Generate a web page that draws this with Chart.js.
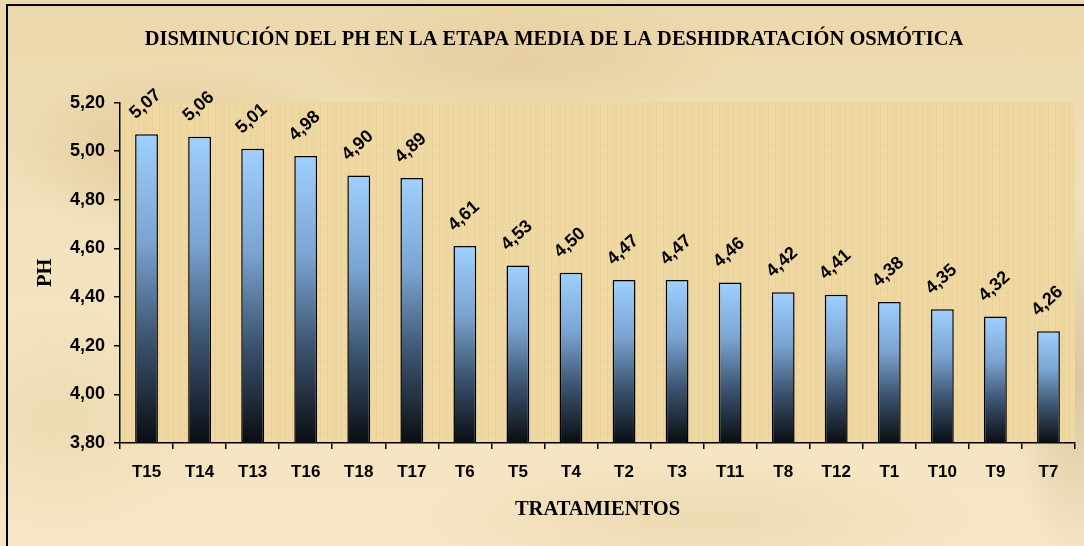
<!DOCTYPE html>
<html lang="es">
<head>
<meta charset="utf-8">
<title>Disminución del pH en la etapa media de la deshidratación osmótica</title>
<script src="https://cdn.jsdelivr.net/npm/chart.js@4.4.1/dist/chart.umd.min.js"></script>
<style>
  html, body { margin: 0; padding: 0; }
  body {
    width: 1084px; height: 546px; overflow: hidden;
    background:
      radial-gradient(ellipse 260px 120px at 180px 150px, rgba(205,175,120,0.45), rgba(205,175,120,0) 70%),
      radial-gradient(ellipse 300px 90px at 520px 60px, rgba(215,185,130,0.35), rgba(215,185,130,0) 70%),
      radial-gradient(ellipse 200px 160px at 60px 420px, rgba(225,200,150,0.35), rgba(225,200,150,0) 70%),
      radial-gradient(ellipse 90px 260px at 1075px 380px, rgba(170,145,105,0.35), rgba(170,145,105,0) 70%),
      radial-gradient(ellipse 400px 90px at 700px 520px, rgba(220,195,145,0.35), rgba(220,195,145,0) 70%),
      linear-gradient(180deg, #ecd7ab 0%, #f3e2bd 45%, #f6e6c4 100%);
  }
  #wrap { position: relative; width: 1084px; height: 546px; }
  #marco {
    position: absolute; left: 6px; top: 4px; right: -4px; bottom: -4px;
    border-left: 2px solid #000; border-top: 2px solid #000;
    pointer-events: none;
  }
</style>
</head>
<body>
<div id="wrap">
  <canvas id="graficoPH"></canvas>
  <div id="marco"></div>
</div>
<script>
const categorias = ['T15', 'T14', 'T13', 'T16', 'T18', 'T17', 'T6', 'T5', 'T4',
                    'T2', 'T3', 'T11', 'T8', 'T12', 'T1', 'T10', 'T9', 'T7'];
const valoresPH = [5.07, 5.06, 5.01, 4.98, 4.90, 4.89, 4.61, 4.53, 4.50,
                   4.47, 4.47, 4.46, 4.42, 4.41, 4.38, 4.35, 4.32, 4.26];
const limitesY = [3.8, 5.2];
const pasoY = 0.2;

const titulo = 'DISMINUCIÓN DEL PH EN LA ETAPA MEDIA DE LA DESHIDRATACIÓN OSMÓTICA';
const sans = 'Arial, "Liberation Sans", sans-serif';
const serif = '"Times New Roman", "Liberation Serif", serif';

// 5.07 -> "5,07"
const formato = v => Number(v).toFixed(2).replace('.', ',');

// degradado de cada barra: celeste arriba, casi negro abajo
function degradado(context) {
  const chart = context.chart;
  const area = chart.chartArea;
  if (!area) return '#99ccff';
  const top = chart.scales.y.getPixelForValue(context.raw);
  const g = chart.ctx.createLinearGradient(0, top, 0, area.bottom);
  g.addColorStop(0, '#9fd0ff');
  g.addColorStop(0.35, '#7aa4d1');
  g.addColorStop(0.65, '#3e5774');
  g.addColorStop(1, '#0a0d12');
  return g;
}

// fondo tipo papiro del area de trazado
const fondoArea = {
  id: 'fondoArea',
  beforeDraw(chart) {
    const { ctx, chartArea: a } = chart;
    ctx.save();
    ctx.fillStyle = '#efd7a2';
    ctx.fillRect(a.left, a.top, a.right - a.left, a.bottom - a.top);
    ctx.lineWidth = 1;
    ctx.strokeStyle = 'rgba(160,125,70,0.07)';
    for (let x = a.left + 4; x < a.right; x += 7) {
      ctx.beginPath(); ctx.moveTo(x + 0.5, a.top); ctx.lineTo(x + 0.5, a.bottom); ctx.stroke();
    }
    ctx.strokeStyle = 'rgba(255,245,215,0.18)';
    for (let y = a.top + 3; y < a.bottom; y += 9) {
      ctx.beginPath(); ctx.moveTo(a.left, y + 0.5); ctx.lineTo(a.right, y + 0.5); ctx.stroke();
    }
    ctx.restore();
  }
};

// valores encima de cada barra, girados
const etiquetas = {
  id: 'etiquetas',
  afterDatasetsDraw(chart) {
    const { ctx } = chart;
    const meta = chart.getDatasetMeta(0);
    ctx.save();
    ctx.font = 'bold 18px ' + sans;
    ctx.fillStyle = '#000';
    ctx.textAlign = 'center';
    ctx.textBaseline = 'middle';
    meta.data.forEach((bar, i) => {
      ctx.save();
      ctx.translate(bar.x - 1, bar.y - 30);
      ctx.rotate(-42 * Math.PI / 180);
      ctx.fillText(formato(valoresPH[i]), 0, 0);
      ctx.restore();
    });
    ctx.restore();
  }
};

new Chart(document.getElementById('graficoPH'), {
  type: 'bar',
  data: {
    labels: categorias,
    datasets: [{
      label: 'PH',
      data: valoresPH,
      backgroundColor: degradado,
      borderColor: '#000',
      borderWidth: 1.5,
      barPercentage: 0.43,
      categoryPercentage: 1
    }]
  },
  options: {
    responsive: true,
    maintainAspectRatio: false,
    animation: false,
    layout: { padding: { left: 33, right: 9, top: 0, bottom: 0 } },
    plugins: {
      legend: { display: false },
      tooltip: { enabled: false },
      title: {
        display: true,
        text: titulo,
        color: '#000',
        font: { family: serif, size: 20.5, weight: 'bold' },
        padding: { top: 27, bottom: 51 }
      }
    },
    scales: {
      x: {
        offset: true,
        grid: { offset: true, drawOnChartArea: false, drawTicks: true, tickLength: 6, color: '#000', lineWidth: 1.5 },
        border: { color: '#000', width: 1.5 },
        ticks: {
          color: '#000',
          font: { family: sans, size: 17, weight: 'bold' },
          padding: 13,
          maxRotation: 0,
          autoSkip: false
        },
        title: {
          display: true,
          text: 'TRATAMIENTOS',
          color: '#000',
          font: { family: serif, size: 20.5, weight: 'bold' },
          padding: { top: 0, bottom: 24 }
        },
        afterFit(scale) { scale.height = 103; }
      },
      y: {
        min: limitesY[0],
        max: limitesY[1],
        grid: { drawOnChartArea: false, drawTicks: true, tickLength: 6, color: '#000', lineWidth: 1.5 },
        border: { color: '#000', width: 1.5 },
        ticks: {
          stepSize: pasoY,
          color: '#000',
          font: { family: sans, size: 18, weight: 'bold' },
          padding: 9,
          callback: v => formato(v)
        },
        title: {
          display: true,
          text: 'PH',
          color: '#000',
          font: { family: serif, size: 20.5, weight: 'bold' },
          padding: 0
        },
        afterFit(scale) { scale.width = 87; }
      }
    }
  },
  plugins: [fondoArea, etiquetas]
});
</script>
</body>
</html>
